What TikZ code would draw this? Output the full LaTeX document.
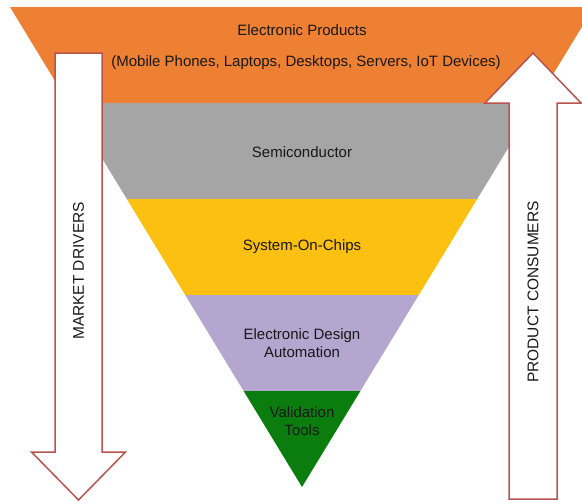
\documentclass[tikz,border=0pt]{standalone}
\usepackage{fontspec}
\setmainfont{Liberation Sans}
\usepackage{xcolor}
\usetikzlibrary{positioning}

\definecolor{bandorange}{HTML}{EE8033}
\definecolor{bandgray}{HTML}{A5A5A5}
\definecolor{bandyellow}{HTML}{FCC010}
\definecolor{bandlilac}{HTML}{B4A6CF}
\definecolor{bandgreen}{HTML}{0B7D0F}
\definecolor{arrowred}{HTML}{B9534F}
\definecolor{labeltext}{HTML}{181818}

\begin{document}
\begin{tikzpicture}[x=1pt, y=-1pt, node distance=18pt, on grid,
    lbl/.style={text=labeltext, font=\fontsize{15}{17.5}\selectfont, inner sep=0pt},
    side/.style={lbl, rotate=90, font=\fontsize{15.5}{18}\selectfont},
    bigarrow/.style={draw=arrowred, fill=white, line width=1.5pt, line join=miter}]

    \useasboundingbox (0,0) rectangle (582,504);
    \clip (0,0) rectangle (582,504);

    % layers of the funnel
    \fill[bandorange] (10,7) -- (594,7) -- (535.6,103) -- (68.4,103) -- cycle;
    \fill[bandgray] (68.4,103) -- (535.6,103) -- (477.2,199) -- (126.8,199) -- cycle;
    \fill[bandyellow] (126.8,199) -- (477.2,199) -- (418.8,295) -- (185.2,295) -- cycle;
    \fill[bandlilac] (185.2,295) -- (418.8,295) -- (360.4,391) -- (243.6,391) -- cycle;
    \fill[bandgreen] (243.6,391) -- (360.4,391) -- (302,487) -- cycle;

    % side arrows
    \draw[bigarrow] (55,53) -- (102,53) -- (102,452) -- (125.5,452) -- (78.5,500)
        -- (31.5,452) -- (55,452) -- cycle;
    \draw[bigarrow] (509,499) -- (557,499) -- (557,103) -- (581,103) -- (533,53)
        -- (485,103) -- (509,103) -- cycle;

    \node[lbl] (products) at (302,30) {Electronic Products};
    \node[lbl] (devices) [below=33pt of products, xshift=4pt]
        {(Mobile Phones, Laptops, Desktops, Servers, IoT Devices)};
    \node[lbl] (semi) at (302,152) {Semiconductor};
    \node[lbl] (soc) at (302,247) {System-On-Chips};
    \node[lbl, align=center] (eda) at (302,343) {Electronic Design\\Automation};
    \node[lbl, align=center] (valid) at (302,421) {Validation\\Tools};

    \node[side] (drivers) at (78.5,271) {MARKET DRIVERS};
    \node[side] (consumers) at (533,292) {PRODUCT CONSUMERS};

\end{tikzpicture}
\end{document}
